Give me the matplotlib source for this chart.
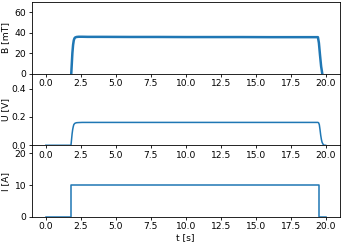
import matplotlib
matplotlib.use("Agg")
import matplotlib.pyplot as plt

# Magnetic field B [mT]
t_B = [1.82, 1.86, 1.90, 1.95, 2.00, 2.05, 2.10, 2.20, 2.35, 2.6, 3.0, 4.0, 6.0, 8.0, 10.0, 12.0, 14.0, 16.0, 18.0, 19.0, 19.45, 19.52, 19.60, 19.68, 19.76]
B = [0.0, 10.0, 20.0, 28.0, 32.5, 34.5, 35.3, 35.8, 36.0, 36.0, 35.9, 35.9, 35.8, 35.8, 35.7, 35.7, 35.7, 35.6, 35.6, 35.6, 35.6, 30.0, 18.0, 7.0, 0.0]

# Voltage U [V]
t_U = [0.0, 1.0, 1.80, 1.84, 1.88, 1.92, 1.96, 2.00, 2.05, 2.10, 2.20, 2.35, 2.6, 5.0, 10.0, 15.0, 19.45, 19.50, 19.55, 19.60, 19.65, 19.70, 19.75, 19.82, 19.9, 20.0]
U = [0.0, 0.0, 0.0, 0.04, 0.08, 0.11, 0.13, 0.145, 0.152, 0.156, 0.159, 0.160, 0.161, 0.161, 0.161, 0.161, 0.161, 0.158, 0.145, 0.11, 0.07, 0.04, 0.02, 0.007, 0.0, 0.0]

# Current I [A]
t_I = [0.0, 1.78, 1.78, 19.52, 19.52, 20.0]
I = [0.0, 0.0, 10.0, 10.0, 0.0, 0.0]

B_yticks = [0, 20, 40, 60]
U_yticks = [0.0, 0.2, 0.4]
I_yticks = [0, 10, 20]
x_ticks = [0.0, 2.5, 5.0, 7.5, 10.0, 12.5, 15.0, 17.5, 20.0]

plt.rcParams['font.size'] = 6.6
color = '#1f77b4'

fig, axes = plt.subplots(3, 1, figsize=(3.42, 2.44), dpi=100, sharex=False)
fig.subplots_adjust(left=0.093, right=0.993, top=0.992, bottom=0.111, hspace=0)

ax1, ax2, ax3 = axes
ax1.plot(t_B, B, color=color, lw=1.8)
ax2.plot(t_U, U, color=color, lw=1.1)
ax3.plot(t_I, I, color=color, lw=1.1)

for z, ax in zip([3, 2, 1], axes):
    ax.set_zorder(z)
    ax.patch.set_visible(False)
    ax.set_xlim(-1, 21)
    ax.set_xticks(x_ticks)
    ax.set_xticklabels([f"{v:.1f}" for v in x_ticks])
    ax.tick_params(length=2.5, width=0.6, pad=1.5)
    for s in ax.spines.values():
        s.set_linewidth(0.6)

ax1.set_ylim(0, 70)
ax1.set_yticks(B_yticks)
ax1.set_ylabel("B [mT]")

ax2.set_ylim(0, 0.505)
ax2.set_yticks(U_yticks)
ax2.set_yticklabels([f"{v:.1f}" for v in U_yticks])
ax2.set_ylabel("U [V]")
ax2.spines['top'].set_visible(False)

ax3.set_ylim(0, 22.5)
ax3.set_yticks(I_yticks)
ax3.set_ylabel("I [A]")
ax3.set_xlabel("t [s]", labelpad=1)
ax3.spines['top'].set_visible(False)

for ax in axes:
    ax.yaxis.set_label_coords(-0.07, 0.5)

fig.savefig("out.png", dpi=100, facecolor='white')
